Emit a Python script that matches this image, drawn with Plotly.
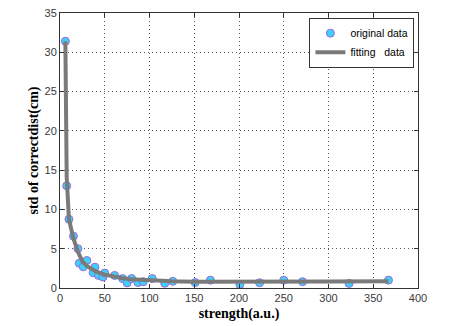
import plotly.graph_objects as go

# original data
x_orig = [6, 7.5, 10, 15, 20, 21.5, 26, 30, 37, 39, 43, 48, 50, 61, 70, 75, 80, 87, 93, 103,
          117, 126, 151, 168, 201, 223, 250, 271, 323, 367]
y_orig = [31.4, 13, 8.75, 6.6, 5.0, 3.15, 2.7, 3.5, 1.95, 2.65, 1.6, 1.4, 1.9, 1.6, 1.2, 0.65,
          1.2, 0.7, 0.8, 1.2, 0.6, 0.85, 0.7, 1.0, 0.45, 0.67, 1.0, 0.8, 0.58, 1.0]

# fitting curve
x_fit = [6, 6.5, 7.5, 10, 15, 20, 25, 30, 40, 50, 60, 70, 80, 100, 125, 150, 200, 250, 300, 367]
y_fit = [31.4, 26.5, 14, 8.75, 6.3, 4.6, 3.4, 2.8, 2.1, 1.7, 1.45, 1.25, 1.1, 0.95, 0.85, 0.8,
         0.78, 0.78, 0.82, 0.85]

x_ticks = [0, 50, 100, 150, 200, 250, 300, 350, 400]
y_ticks = [0, 5, 10, 15, 20, 25, 30, 35]

fig = go.Figure()
fig.add_trace(go.Scatter(
    x=x_orig, y=y_orig, mode="markers", name="original data",
    marker=dict(size=8, color="#3fd0fa", line=dict(color="#9a6ad8", width=1)),
))
fig.add_trace(go.Scatter(
    x=x_fit, y=y_fit, mode="lines", name="fitting   data",
    line=dict(color="#7a7a7a", width=4),
))

axis_common = dict(
    showline=True, linecolor="#333333", linewidth=1, mirror="ticks",
    ticks="inside", ticklen=4, tickcolor="#333333",
    showgrid=True, gridcolor="#555555", griddash="1px,3px", gridwidth=1,
    zeroline=False,
    tickfont=dict(family="Liberation Sans, Arial", size=11, color="#3a3a3a"),
)

fig.update_layout(
    width=462, height=326,
    margin=dict(l=60, r=44, t=7, b=38),
    paper_bgcolor="white", plot_bgcolor="white",
    xaxis=dict(range=[0, 400], tickvals=x_ticks,
               title=dict(text="<b>strength(a.u.)</b>", standoff=4,
                          font=dict(family="Liberation Serif, Times New Roman", size=14, color="black")),
               **axis_common),
    yaxis=dict(range=[0, 35], tickvals=y_ticks,
               title=dict(text="<b>std of correctdist(cm)</b>", standoff=2,
                          font=dict(family="Liberation Serif, Times New Roman", size=14, color="black")),
               **axis_common),
    legend=dict(x=0.99, y=0.983, xanchor="right", yanchor="top",
                bgcolor="white", bordercolor="#333333", borderwidth=1,
                font=dict(family="Liberation Sans, Arial", size=10.5, color="black"),
                tracegroupgap=0, itemwidth=30),
    showlegend=True,
)

fig.write_html("out.html")
